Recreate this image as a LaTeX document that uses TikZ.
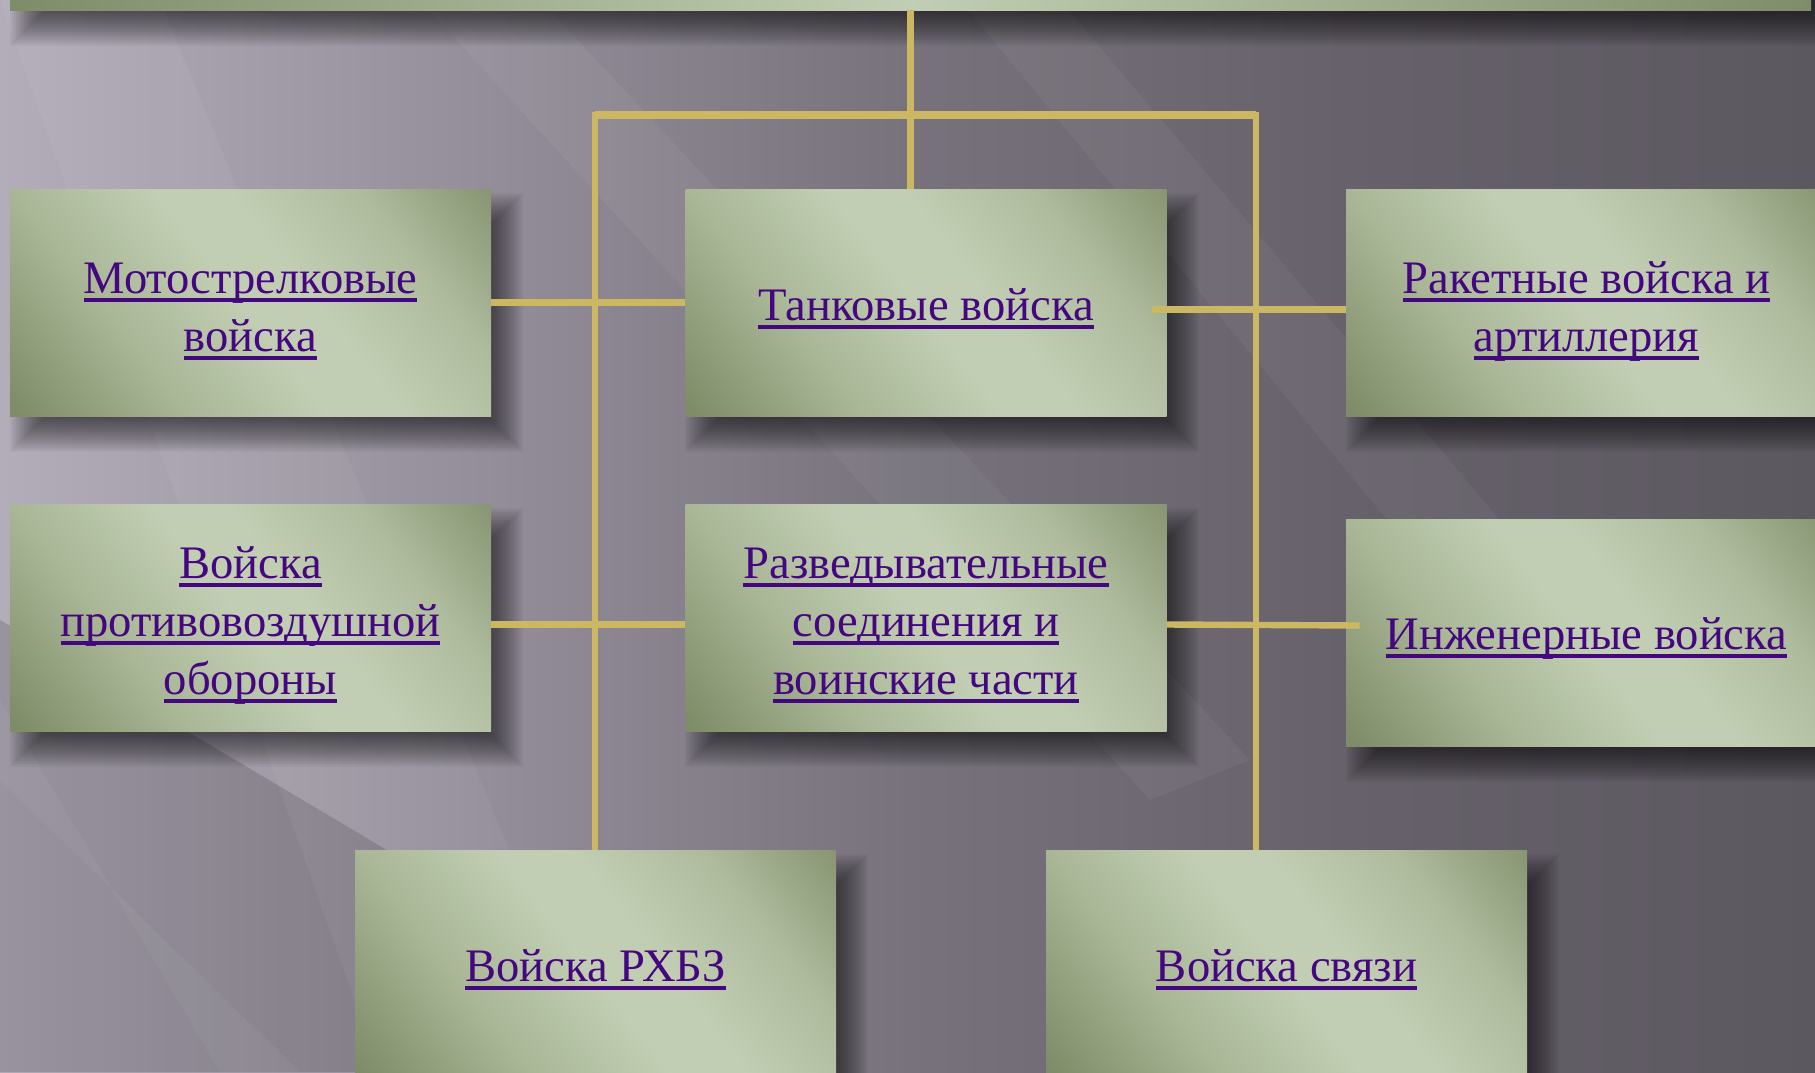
\documentclass[tikz,border=0pt]{standalone}
\usepackage{fontspec}
\setmainfont{Liberation Serif}
\definecolor{linkc}{HTML}{44077F}
\definecolor{linec}{HTML}{CCB863}
\definecolor{bgA}{HTML}{B3ADBA}
\definecolor{bgB}{HTML}{9C96A2}
\definecolor{bgC}{HTML}{77727C}
\definecolor{bgD}{HTML}{66616A}
\definecolor{bgE}{HTML}{5C5860}
\definecolor{oD}{HTML}{7E8C68}
\definecolor{oM}{HTML}{A9B797}
\definecolor{oL}{HTML}{C1CEB3}
\definecolor{oM2}{HTML}{AEBB9D}
\definecolor{oD2}{HTML}{7F8D69}
\pgfdeclarehorizontalshading{bgsh}{100bp}{color(0bp)=(bgA); color(25bp)=(bgA); color(35bp)=(bgB); color(50bp)=(bgC); color(62bp)=(bgD); color(75bp)=(bgE); color(100bp)=(bgE)}
\pgfdeclarehorizontalshading{boxsh}{100bp}{color(0bp)=(oD); color(16bp)=(oD); color(34bp)=(oM); color(49bp)=(oL); color(57bp)=(oL); color(71bp)=(oM2); color(88bp)=(oD2); color(100bp)=(oD2)}
\pgfdeclarehorizontalshading{topsh}{100bp}{color(0bp)=(oD); color(25bp)=(oD); color(50bp)=(oL); color(75bp)=(oD2); color(100bp)=(oD2)}
\newcommand{\ulx}[1]{\setbox0=\hbox{#1}\rlap{\rule[-4.4pt]{\wd0}{2.1pt}}\box0}
\pgfdeclarelayer{back}
\pgfdeclarelayer{shad}
\pgfsetlayers{back,shad,main}
\newcommand{\shadowfor}[1]{%
  \begin{pgfonlayer}{shad}
  \foreach \e in {8,7,...,-10}{%
    \fill[black, fill opacity=0.038]
      ([xshift={(8-(\e))*1pt}, yshift={(-10+(\e))*1pt}]#1.north west) rectangle
      ([xshift={(8+(\e))*1pt}, yshift={(-10-(\e))*1pt}]#1.south east);
  }
  \end{pgfonlayer}}
\tikzset{
  boxnode/.style={rectangle, minimum width=240.5pt, minimum height=113.5pt, inner sep=0pt,
    shade, shading=boxsh, shading angle=38},
  txt/.style={inner sep=0pt, font=\fontsize{23.3}{29}\selectfont, text=linkc, align=center},
  conn/.style={draw=linec, line width=3.2pt},
  beam/.style={fill=white, fill opacity=0.045, draw=none}
}
\begin{document}
\begin{tikzpicture}[x=0.5pt,y=-0.5pt]
\useasboundingbox (0,0) rectangle (1815,1072);
% background
\begin{pgfonlayer}{back}
\shade[shading=bgsh] (0,0) rectangle (1815,1072);
\fill[black, fill opacity=0.15] (0,1072) -- (0,620) -- (760,1072) -- cycle;
\fill[beam] (0,0) -- (160,0) -- (600,1072) -- (380,1072) -- cycle;
\fill[beam] (420,0) -- (540,0) -- (1250,760) -- (1150,800) -- cycle;
\fill[beam] (0,700) -- (0,780) -- (300,1072) -- (220,1072) -- cycle;
\fill[beam] (960,0) -- (1060,0) -- (1500,520) -- (1420,560) -- cycle;
\end{pgfonlayer}
% top (parent) box, mostly off the page
\node[rectangle, minimum width=900.5pt, minimum height=155pt, inner sep=0pt, shade, shading=topsh]
  (top) at (910.5,-145) {};
% boxes
\node[boxnode] (m)  at (250.5,302.5) {};
\node[boxnode] (t)  at (926,302.5) {};
\node[boxnode] (r)  at (1586.5,302.5) {};
\node[boxnode] (p)  at (250.5,617.5) {};
\node[boxnode] (rz) at (926,617.5) {};
\node[boxnode] (e)  at (1586.5,632.5) {};
\node[boxnode] (rx) at (595.5,963.5) {};
\node[boxnode] (sv) at (1286.5,963.5) {};
\shadowfor{top}\shadowfor{m}\shadowfor{t}\shadowfor{r}\shadowfor{p}
\shadowfor{rz}\shadowfor{e}\shadowfor{rx}\shadowfor{sv}
% texts
\node[txt] (mT)  at ([yshift=-4.5pt]m.center) {\ulx{Мотострелковые}\\\ulx{войска}};
\node[txt] (tT)  at ([yshift=-3pt]t.center) {\ulx{Танковые войска}};
\node[txt] (rT)  at ([yshift=-4.5pt]r.center) {\ulx{Ракетные войска и}\\\ulx{артиллерия}};
\node[txt] (pT)  at ([yshift=-4pt]p.center) {\ulx{Войска}\\\ulx{противовоздушной}\\\ulx{обороны}};
\node[txt] (rzT) at ([yshift=-4pt]rz.center) {\ulx{Разведывательные}\\\ulx{соединения и}\\\ulx{воинские части}};
\node[txt] (eT)  at ([yshift=-3pt]e.center) {\ulx{Инженерные войска}};
\node[txt] (rxT) at ([yshift=-3pt]rx.center) {\ulx{Войска РХБЗ}};
\node[txt] (svT) at ([yshift=-3pt]sv.center) {\ulx{Войска связи}};
\coordinate (bl) at (595,115);
\coordinate (br) at (1256,115);
% connectors
\draw[conn] (top.south) -- (t.north -| top.south);
\draw[conn] (rx.north -| bl) -- (bl) -- (br) -- (sv.north -| br);
\draw[conn, line width=4pt] (bl) -- (br);
\draw[conn] (m.east) -- (t.west);
\draw[conn] ([xshift=-7.5pt,yshift=-3.5pt]t.east) -- ([yshift=-3.5pt]r.west);
\draw[conn] ([yshift=-3.5pt]p.east) -- ([yshift=-3.5pt]rz.west);
\draw[conn] ([yshift=-3.5pt]rz.east) -- ([xshift=7pt,yshift=3.5pt]e.west);
\end{tikzpicture}
\end{document}
